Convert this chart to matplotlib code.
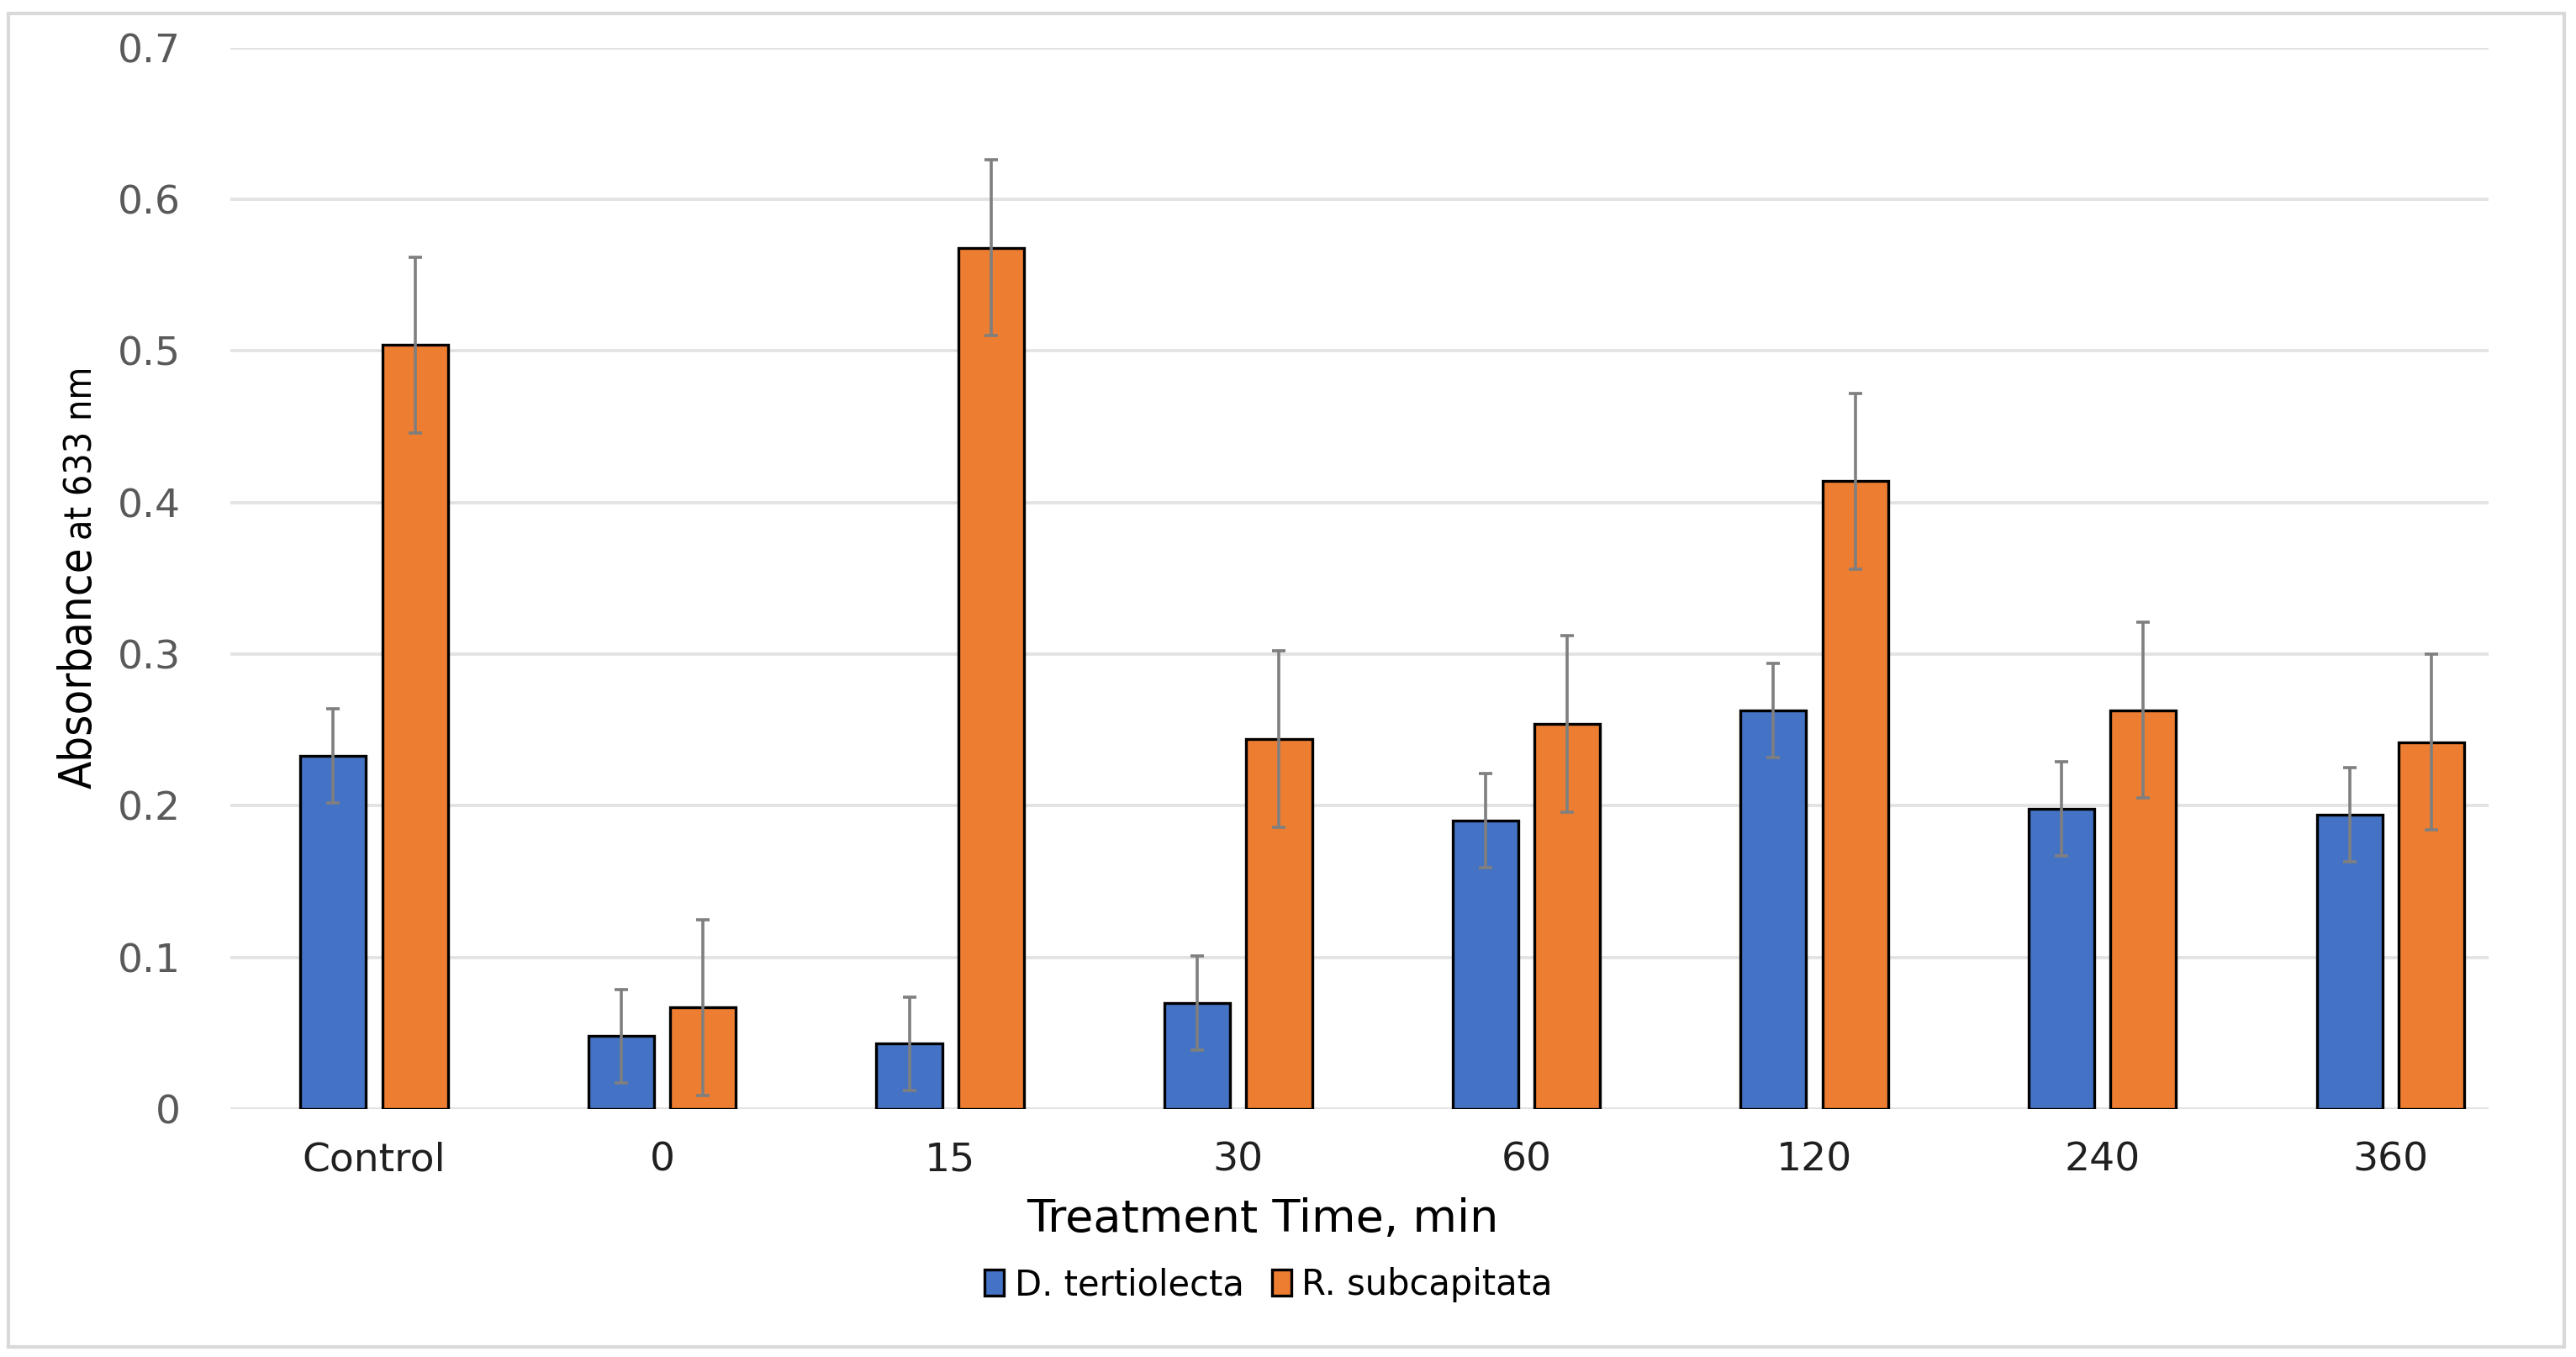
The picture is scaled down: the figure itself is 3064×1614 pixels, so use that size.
import numpy as np
import matplotlib
matplotlib.use("Agg")
import matplotlib.pyplot as plt
from matplotlib.patches import Rectangle

# ── Data ────────────────────────────────────────────────────
categories = ["Control", "0", "15", "30", "60", "120", "240", "360"]
series_names = ["D. tertiolecta", "R. subcapitata"]
d_tert = [0.233, 0.048, 0.043, 0.070, 0.190, 0.263, 0.198, 0.194]
d_tert_err = [0.031, 0.031, 0.031, 0.031, 0.031, 0.031, 0.031, 0.031]
r_subc = [0.504, 0.067, 0.568, 0.244, 0.254, 0.414, 0.263, 0.242]
r_subc_err = [0.058, 0.058, 0.058, 0.058, 0.058, 0.058, 0.058, 0.058]
yticks = [0, 0.1, 0.2, 0.3, 0.4, 0.5, 0.6, 0.7]
ytick_labels = ["0", "0.1", "0.2", "0.3", "0.4", "0.5", "0.6", "0.7"]

STYLE = {
    "blue": "#4472C4",
    "orange": "#ED7D31",
    "err": "#7f7f7f",
    "grid": "#e3e3e3",
    "tick": "#595959",
}
FONT = ["DejaVu Sans"]

fig = plt.figure(figsize=(15.32, 8.07), dpi=200, facecolor="white")
ax = fig.add_axes([0.0893, 0.1828, 0.8767, 0.7821])

x = np.arange(len(categories))
w = 0.228
off = 0.142
ax.bar(x - off, d_tert, w, color=STYLE["blue"], edgecolor="black", lw=1.2,
       label=series_names[0], zorder=3)
ax.bar(x + off, r_subc, w, color=STYLE["orange"], edgecolor="black", lw=1.2,
       label=series_names[1], zorder=3)
ax.errorbar(x - off, d_tert, yerr=d_tert_err, fmt="none", ecolor=STYLE["err"],
            elinewidth=1.3, capsize=3, capthick=1.3, zorder=4)
ax.errorbar(x + off, r_subc, yerr=r_subc_err, fmt="none", ecolor=STYLE["err"],
            elinewidth=1.3, capsize=3, capthick=1.3, zorder=4)

ax.set_xlim(-0.5, 7.34)
ax.set_ylim(0, 0.7)
ax.set_yticks(yticks)
ax.set_yticklabels(ytick_labels, family=FONT, fontsize=17, color=STYLE["tick"])
ax.set_xticks(x)
ax.set_xticklabels(categories, family=FONT, fontsize=17, color="#202020")
ax.tick_params(axis="both", length=0)
ax.tick_params(axis="y", pad=21)
ax.tick_params(axis="x", pad=14)
ax.grid(True, axis="y", color=STYLE["grid"], lw=1.4, zorder=0)
for s in ax.spines.values():
    s.set_visible(False)

fig.text(0.49, 1 - 742 / 826, "Treatment Time, min", ha="center", va="center",
         family=FONT, fontsize=19.5, color="black")

# y label in two sizes, stacked along the rotated baseline
renderer = fig.canvas.get_renderer()
t1 = fig.text(0.0305, 1 - 480 / 826, "Absorbance", rotation=90,
              rotation_mode="anchor", ha="left", va="center",
              family=FONT, fontstretch="condensed", fontsize=19.5,
              color="black")
bb = t1.get_window_extent(renderer).transformed(fig.transFigure.inverted())
fig.text(0.0318, bb.y1 + 0.005, "at 633 nm", rotation=90,
         rotation_mode="anchor", ha="left", va="center",
         family=FONT, fontstretch="condensed", fontsize=16,
         color="black")

fig.legend(loc="center", bbox_to_anchor=(0.4925, 1 - 782 / 826), ncol=2,
           frameon=False, prop={"family": FONT, "size": 15},
           handlelength=0.55, handleheight=0.75, handletextpad=0.3,
           columnspacing=0.8)

# outer chart frame
fig.add_artist(Rectangle((5 / 1568, 1 - 820 / 826), 1556 / 1568, 812 / 826,
                         transform=fig.transFigure, fill=False,
                         edgecolor="#d9d9d9", lw=1.5))

plt.savefig("out.png", dpi=200)
plt.close()
